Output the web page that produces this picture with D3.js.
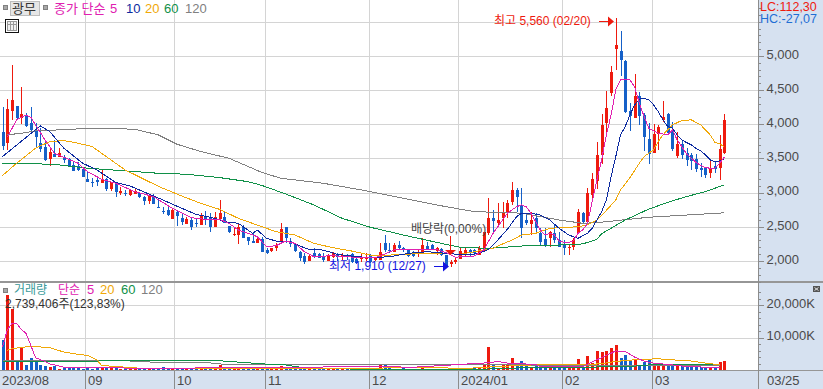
<!DOCTYPE html>
<html>
<head>
<meta charset="utf-8">
<script src="https://cdn.jsdelivr.net/npm/d3@7"></script>
<style>
  body { margin: 0; background: #fff; }
  svg { display: block; font-family: "Liberation Sans", "Noto Sans CJK KR", sans-serif; }
  .ma { fill: none; stroke-width: 1; shape-rendering: crispEdges; }
  .axis path, .axis line { stroke: #8c8c8c; shape-rendering: crispEdges; }
  .axis text { fill: #4a4a4a; font-size: 13px; }
</style>
</head>
<body>
<div id="chart"></div>
<script>
// candles, one entry per trading day
var open = [3890,3730,4195,4270,4090,4137,4015,3903,3723,3674,3498,3566,3527,3518,3493,3405,3391,3342,3200,3161,3181,3147,3200,3054,3137,3000,2990,2966,2980,3000,2942,2878,2956,2795,2737,2746,2615,2722,2634,2542,2600,2551,2527,2639,2639,2502,2610,2639,2512,2380,2380,2493,2346,2293,2268,2322,2160,2151,2185,2283,2492,2297,2244,2136,2078,2004,2122,2097,2063,2004,2063,2087,2063,2087,2097,2029,2024,2024,2087,2014,2014,2258,2165,2127,2234,2195,2170,2122,2102,2127,2219,2234,2146,2175,2088,1960,1990,2024,2122,2161,2161,2088,2185,2405,2624,2551,2624,2698,2868,3039,2820,2600,2541,2624,2405,2317,2332,2405,2307,2249,2185,2210,2405,2707,2576,2966,3171,3552,4015,4464,5103,5074,4918,4196,4098,4416,4137,3781,3586,3859,4055,4152,3893,3537,3713,3576,3552,3493,3357,3381,3293,3391,3357,3586];
var close = [3680,4225,4357,4090,4150,3976,3918,3820,3640,3480,3590,3518,3581,3480,3395,3322,3332,3234,3161,3137,3157,3200,3054,3152,3010,3030,2975,3040,3030,2932,2878,2956,2834,2780,2722,2673,2746,2663,2566,2610,2493,2537,2659,2600,2493,2639,2698,2561,2420,2395,2502,2342,2293,2268,2317,2136,2112,2185,2219,2468,2331,2244,2146,2038,1980,2078,2063,2048,2014,2087,2112,2063,2087,2063,1990,1965,2048,2063,1990,2048,2136,2160,2140,2234,2185,2175,2073,2078,2136,2234,2175,2170,2185,2088,1927,1980,2010,2146,2161,2112,2112,2185,2429,2624,2590,2600,2722,2844,3039,2942,2478,2561,2600,2478,2283,2234,2429,2307,2210,2185,2210,2307,2722,2576,2990,3195,3552,3991,4245,4757,5162,4943,4186,4128,4416,4128,3820,3566,3859,3957,4113,3869,3640,3713,3552,3479,3464,3347,3332,3259,3367,3347,3640,4064];
var high = [4250,4370,4870,4270,4540,4160,4250,4020,3940,3770,3650,3770,3650,3552,3503,3444,3444,3357,3308,3220,3235,3342,3210,3161,3147,3088,3040,3054,3074,3015,2951,2966,2981,2917,2795,2785,2756,2737,2697,2649,2624,2610,2698,2732,2707,2722,2893,2722,2512,2478,2551,2527,2356,2405,2371,2356,2195,2195,2258,2551,2502,2331,2258,2146,2112,2087,2185,2112,2112,2097,2126,2112,2112,2097,2112,2063,2097,2112,2097,2063,2258,2380,2270,2268,2293,2210,2175,2146,2175,2332,2283,2249,2210,2185,2088,2014,2039,2200,2200,2175,2175,2219,2429,2917,2746,2844,2868,2893,3151,3064,3064,2698,2722,2698,2478,2478,2444,2527,2429,2307,2234,2332,2756,2722,3064,3283,3747,4147,4489,4845,5560,5367,4943,4318,4738,4479,4162,4015,4006,3991,4342,4162,4040,3893,3771,3650,3576,3566,3430,3381,3479,3454,3845,4152];
var low = [3620,3620,4060,4060,4005,3957,3870,3665,3600,3464,3395,3518,3518,3430,3395,3318,3322,3234,3161,3088,3098,3147,3030,3030,2942,2966,2956,2956,2980,2917,2820,2830,2830,2780,2688,2663,2615,2512,2527,2537,2454,2493,2527,2527,2430,2493,2600,2551,2405,2366,2249,2332,2234,2259,2259,2126,2097,2136,2151,2283,2258,2200,2136,2000,1956,2004,2038,2038,1990,2000,2038,2000,2014,2014,1965,1950,1990,2000,1965,2000,2014,2136,2120,2127,2161,2136,2063,2054,2063,2112,2161,2161,2088,2073,1917,1910,1956,2024,2054,2063,2088,2088,2136,2380,2429,2527,2478,2624,2820,2722,2332,2527,2380,2405,2234,2210,2200,2268,2210,2088,2088,2161,2405,2551,2576,2917,3050,3420,3845,4406,4796,4699,4162,3908,4089,3991,3615,3420,3576,3625,4040,3845,3615,3503,3488,3396,3332,3308,3235,3220,3220,3293,3186,3567];

// volume in thousands of shares
var volume = [9200,23200,18900,3000,6900,1700,3800,2650,1600,1300,1000,1200,450,1000,570,520,480,450,500,430,470,520,560,600,480,430,380,400,360,420,400,380,350,400,780,380,360,350,400,380,360,420,380,360,400,420,1400,500,420,380,360,400,350,380,400,780,420,380,450,1100,520,450,400,380,360,400,380,360,350,380,400,360,350,380,400,360,380,400,420,500,1500,1900,600,450,420,480,420,380,400,780,450,420,400,380,420,400,450,420,400,450,480,520,1900,7100,1400,680,1900,1400,3800,1400,2650,1400,470,1400,1400,700,650,700,650,600,680,880,3500,700,4200,2100,5800,5500,5800,6700,7650,3600,4500,2750,3000,1700,2350,3000,1900,1400,1900,1100,1100,1700,1100,880,1100,1100,880,680,680,680,2350,2739];

// moving averages on price, read as index / value pairs
var ma5Idx = [1,3,5,6,7,9,11,13,16,18,21,24,28,32,36,40,44,46,48,50,54,56,58,60,62,64,66,70,76,79,80,83,86,89,92,94,96,98,100,102,104,105,107,109,110,111,112,113,114,115,116,117,118,119,120,121,122,123,124,125,126,127,128,129,130,131,133,134,135,136,137,139,141,142,143,144,145,146,147,148,149,150,151,152,153];
var ma5Val = [3810,4064,4137,4103,3991,3771,3576,3518,3430,3308,3196,3137,3015,2942,2771,2634,2600,2610,2551,2454,2356,2209,2224,2292,2258,2136,2063,2078,2048,2048,2073,2161,2161,2161,2170,2122,2053,2073,2073,2161,2405,2502,2698,2795,2820,2795,2698,2576,2454,2380,2405,2380,2293,2273,2273,2293,2405,2454,2551,2870,3186,3479,3845,4137,4503,4650,4650,4543,4308,4113,3942,3869,3845,3918,3771,3674,3566,3503,3444,3396,3366,3357,3357,3430,3518];
var ma10Idx = [0,8,10,13,17,20,24,27,31,34,38,41,45,47,50,53,54,56,58,61,63,65,68,71,75,79,80,83,86,90,94,98,101,103,105,107,109,110,112,114,116,118,120,122,124,125,126,127,128,129,130,131,132,133,134,135,136,137,138,139,140,141,142,143,144,145,146,147,148,149,150,151,152,153];
var ma10Val = [3527,3976,3893,3650,3430,3332,3147,3098,2981,2893,2771,2683,2624,2576,2551,2405,2453,2331,2292,2283,2219,2170,2160,2097,2063,2048,2053,2073,2112,2136,2112,2088,2110,2170,2307,2463,2649,2698,2698,2673,2600,2478,2380,2332,2405,2478,2600,2720,2893,3235,3527,3845,3967,4137,4284,4367,4381,4357,4284,4186,4064,3967,3942,3845,3771,3732,3698,3649,3610,3552,3479,3454,3464,3488];
var ma20Idx = [0,3,7,10,13,16,19,22,26,31,34,38,42,46,50,55,58,62,66,70,74,78,83,89,93,97,102,104,106,108,110,113,116,120,122,124,126,128,130,131,133,135,136,138,139,140,142,144,146,148,150,151,152,153];
var ma20Val = [3249,3430,3649,3747,3762,3723,3674,3527,3332,3161,3064,2951,2844,2756,2624,2502,2429,2380,2258,2195,2146,2085,2088,2112,2112,2097,2161,2185,2249,2307,2380,2405,2478,2493,2502,2527,2600,2740,2893,3039,3220,3430,3527,3625,3747,3845,3991,4055,4064,3991,3845,3737,3713,3674];
var ma60Idx = [0,8,12,18,26,33,39,46,52,55,60,66,72,78,85,92,97,103,110,118,123,126,127,132,137,142,145,149,153];
var ma60Val = [3430,3420,3405,3357,3318,3283,3269,3220,3161,3105,2981,2820,2624,2493,2380,2273,2200,2185,2219,2234,2250,2317,2400,2600,2760,2880,2942,3015,3113];
var ma120Idx = [1,4,7,12,19,28,33,37,42,48,55,59,68,76,85,92,100,110,118,123,126,137,147,153];
var ma120Val = [3845,3869,3903,3918,3942,3928,3845,3708,3601,3503,3295,3210,3137,3040,2917,2820,2722,2700,2600,2551,2561,2640,2680,2705];

// moving averages on volume
var vma5Idx = [0,1,2,3,4,5,6,7,8,9,10,13,17,23,24,26,31,45,50,80,84,85,103,105,107,110,113,114,118,123,126,128,130,132,134,136,138,141,145,149,152];
var vma5Val = [7100,12300,14400,14400,12500,11300,7600,3800,3200,2650,1900,880,680,680,880,570,470,680,680,1090,1090,680,2240,2650,2130,1920,1700,1090,1090,1090,3170,4520,5880,5770,4000,2750,2130,1700,1090,880,680];
var vma20Idx = [1,2,6,10,13,16,18,20,21,24,26,31,93,98,105,110,113,122,127,130,134,139,141,145,148,152];
var vma20Val = [6080,6600,7330,6900,5560,4840,4520,3170,1400,1090,880,360,680,470,1090,1400,1610,1610,1920,2650,3170,3480,3170,2960,2340,1610];
var vma60Idx = [0,5,26,43,46,52,56,59,62,64,75,102,110,113,118,125,127,134,138,152];
var vma60Val = [2550,2550,2860,2860,2860,2240,1820,1820,1090,680,260,260,680,880,680,680,1200,1200,1700,1700];
var vma120Idx = [0,26,33,43,48,110,115,152];
var vma120Val = [2860,2860,2340,2340,1610,1610,1300,1300];

// axis ticks
var priceTicks = [2000,2500,3000,3500,4000,4500,5000];
var priceGrid = [2000,2500,3000,3500,4000,4500,5000,5500];
var volumeTicks = [10000,20000];
var monthIdx = [17.4,36.45,55.55,77.7,96.5,118.6,137.7];
var monthLabels = ["09","10","11","12","2024/01","02","03"];

var red = "#ee1a0e", blue = "#1560c8", magenta = "#e020b0", navy = "#0c2aa0", orange = "#f0a808", green = "#109048", gray = "#808080";
var gridColor = "#d4d4d4", panelColor = "#d6e1f0";
var width = 823, height = 389, plotRight = 758.5;

var svg = d3.select("#chart").append("svg").attr("width", width).attr("height", height);

var xScale = d3.scaleLinear().domain([0, 153]).range([2.5, 724.3]);
var yPrice = d3.scaleLinear().domain([2000, 5500]).range([261, 21.7]);
var yVolume = d3.scaleLinear().domain([0, 20000]).range([370, 305.3]);

// right and bottom panels
svg.append("rect").attr("x", plotRight).attr("y", 0).attr("width", width - plotRight).attr("height", height).attr("fill", panelColor);
svg.append("rect").attr("x", 0).attr("y", 371).attr("width", width).attr("height", 18).attr("fill", panelColor);

// grid
var grid = svg.append("g").attr("shape-rendering", "crispEdges");
grid.selectAll(".priceGrid").data(priceGrid).enter().append("line")
    .attr("x1", 0).attr("x2", plotRight)
    .attr("y1", function(d) { return Math.round(yPrice(d)) + 0.5; })
    .attr("y2", function(d) { return Math.round(yPrice(d)) + 0.5; })
    .attr("stroke", gridColor);
grid.selectAll(".volumeGrid").data(volumeTicks).enter().append("line")
    .attr("x1", 0).attr("x2", plotRight)
    .attr("y1", function(d) { return Math.round(yVolume(d)) + 0.5; })
    .attr("y2", function(d) { return Math.round(yVolume(d)) + 0.5; })
    .attr("stroke", gridColor);
grid.selectAll(".monthGrid").data(monthIdx).enter().append("line")
    .attr("x1", function(d) { return Math.round(xScale(d)) + 0.5; })
    .attr("x2", function(d) { return Math.round(xScale(d)) + 0.5; })
    .attr("y1", 0).attr("y2", 371)
    .attr("stroke", gridColor);

// pane separators
grid.append("line").attr("x1", 0).attr("x2", width).attr("y1", 282).attr("y2", 282).attr("stroke", "#969696").attr("stroke-width", 1.5);
grid.append("line").attr("x1", 0).attr("x2", width).attr("y1", 370.5).attr("y2", 370.5).attr("stroke", "#969696");

// candles
var days = d3.range(open.length);
var candles = svg.append("g").attr("shape-rendering", "crispEdges");
candles.selectAll(".wick").data(days).enter().append("rect")
    .attr("x", function(i) { return Math.round(xScale(i)); })
    .attr("y", function(i) { return yPrice(high[i]); })
    .attr("width", 1)
    .attr("height", function(i) { return yPrice(low[i]) - yPrice(high[i]); })
    .attr("fill", function(i) { return close[i] >= open[i] ? red : blue; });
candles.selectAll(".body").data(days).enter().append("rect")
    .attr("x", function(i) { return Math.round(xScale(i)) - 1; })
    .attr("y", function(i) { return yPrice(Math.max(open[i], close[i])); })
    .attr("width", 3)
    .attr("height", function(i) { return Math.max(1, Math.abs(yPrice(open[i]) - yPrice(close[i]))); })
    .attr("fill", function(i) { return close[i] >= open[i] ? red : blue; });

// volume bars
svg.append("g").attr("shape-rendering", "crispEdges").selectAll("rect").data(days).enter().append("rect")
    .attr("x", function(i) { return Math.round(xScale(i)) - 1; })
    .attr("y", function(i) { return yVolume(volume[i]); })
    .attr("width", 3)
    .attr("height", function(i) { return yVolume(0) - yVolume(volume[i]); })
    .attr("fill", function(i) { return close[i] >= open[i] ? red : blue; });

function drawLine(idx, vals, scale, color, weight) {
  var line = d3.line()
      .x(function(d) { return xScale(d); })
      .y(function(d, i) { return scale(vals[i]); });
  svg.append("path").datum(idx).attr("class", "ma").attr("stroke", color).attr("stroke-width", weight || 1).attr("d", line);
}

drawLine(ma120Idx, ma120Val, yPrice, gray, 1.4);
drawLine(ma60Idx, ma60Val, yPrice, green, 1.4);
drawLine(ma20Idx, ma20Val, yPrice, orange, 1.4);
drawLine(ma10Idx, ma10Val, yPrice, navy);
drawLine(ma5Idx, ma5Val, yPrice, magenta);

drawLine(vma120Idx, vma120Val, yVolume, gray, 1.4);
drawLine(vma60Idx, vma60Val, yVolume, green, 1.4);
drawLine(vma20Idx, vma20Val, yVolume, orange, 1.4);
drawLine(vma5Idx, vma5Val, yVolume, magenta, 1.4);

// right axes
var priceAxis = d3.axisRight(yPrice).tickValues(priceTicks).tickSize(5).tickPadding(3).tickFormat(d3.format(","));
var priceAxisG = svg.append("g").attr("class", "axis").attr("transform", "translate(" + plotRight + ",0)").call(priceAxis);
priceAxisG.select(".domain").remove();
priceAxisG.selectAll("text").attr("dy", "0.18em");
var priceMinor = d3.axisRight(yPrice).tickValues(d3.range(1700, 5800, 100)).tickSize(2).tickFormat("");
svg.append("g").attr("class", "axis").attr("transform", "translate(" + plotRight + ",0)").call(priceMinor)
    .select(".domain").remove();

var volumeAxis = d3.axisRight(yVolume).tickValues(volumeTicks).tickSize(5).tickPadding(3).tickFormat(function(d) { return d3.format(",")(d) + "K"; });
var volumeAxisG = svg.append("g").attr("class", "axis").attr("transform", "translate(" + plotRight + ",0)").call(volumeAxis);
volumeAxisG.select(".domain").remove();
volumeAxisG.selectAll("text").attr("dy", "0.18em");
var volumeMinor = d3.axisRight(yVolume).tickValues(d3.range(0, 26000, 2000)).tickSize(2).tickFormat("");
svg.append("g").attr("class", "axis").attr("transform", "translate(" + plotRight + ",0)").call(volumeMinor)
    .select(".domain").remove();

svg.append("line").attr("x1", plotRight).attr("x2", plotRight).attr("y1", 0).attr("y2", height)
    .attr("stroke", "#8c8c8c").attr("shape-rendering", "crispEdges");

// month labels on the bottom band
var bottomTicks = svg.append("g").attr("shape-rendering", "crispEdges");
bottomTicks.selectAll("line").data(monthIdx).enter().append("line")
    .attr("x1", function(d) { return Math.round(xScale(d)) + 0.5; })
    .attr("x2", function(d) { return Math.round(xScale(d)) + 0.5; })
    .attr("y1", 371).attr("y2", height)
    .attr("stroke", "#8c8c8c");
function label(x, y, text, color, size, anchor) {
  return svg.append("text").attr("x", x).attr("y", y).attr("fill", color)
      .attr("font-size", size).attr("text-anchor", anchor || "start").text(text);
}
label(2, 385, "2023/08", "#4a4a4a", 13);
monthIdx.forEach(function(d, i) {
  label(Math.round(xScale(d)) + 3, 385, monthLabels[i], "#4a4a4a", 13);
});
label(767, 385, "03/25", "#4a4a4a", 13);

// top-left legend
function square(x, y) {
  svg.append("rect").attr("x", x).attr("y", y).attr("width", 4).attr("height", 4)
      .attr("fill", "#a8a8a8").attr("stroke", "#808080").attr("shape-rendering", "crispEdges");
}
square(3.5, 5.5);
square(43.5, 5.5);
svg.append("rect").attr("x", 10.5).attr("y", 1.5).attr("width", 29).attr("height", 14)
    .attr("fill", "#e6e6e6").attr("stroke", "#bdbdbd").attr("shape-rendering", "crispEdges");
label(12, 13, "광무", "#333", 13);
label(54, 13, "종가 단순", magenta, 13);
label(110, 13, "5", magenta, 13);
label(126, 13, "10", navy, 13);
label(145, 13, "20", orange, 13);
label(164, 13, "60", green, 13);
label(185, 13, "120", gray, 13);

// small table icon
var icon = svg.append("g").attr("shape-rendering", "crispEdges");
icon.append("rect").attr("x", 5.5).attr("y", 19.5).attr("width", 13).attr("height", 13).attr("fill", "#fff").attr("stroke", "#111");
icon.append("rect").attr("x", 7.5).attr("y", 21.5).attr("width", 9).attr("height", 9).attr("fill", "#eee").attr("stroke", "#999");
icon.append("line").attr("x1", 10.5).attr("x2", 10.5).attr("y1", 21).attr("y2", 31).attr("stroke", "#999");
icon.append("line").attr("x1", 13.5).attr("x2", 13.5).attr("y1", 21).attr("y2", 31).attr("stroke", "#999");
icon.append("line").attr("x1", 7).attr("x2", 17).attr("y1", 24.5).attr("y2", 24.5).attr("stroke", "#999");

// volume legend
square(3.5, 288);
label(14, 294, "거래량", "#3a9a9a", 12);
label(58, 294, "단순", magenta, 12);
label(87, 294, "5", magenta, 13);
label(100, 294, "20", orange, 13);
label(121, 294, "60", green, 13);
label(141, 294, "120", gray, 13);
label(5, 308, "2,739,406주(123,83%)", "#333", 12);

// corner readouts
label(760, 11, "LC:112,30", red, 12.5);
label(760, 23, "HC:-27,07", "#1f6ed4", 12.5);

// high / low annotations
label(494, 25, "최고 5,560 (02/20)", red, 12);
label(329, 270, "최저 1,910 (12/27)", "#1414e0", 12);
label(411, 233, "배당락(0,00%)", "#444", 12);

function arrow(x1, x2, y, color) {
  svg.append("line").attr("x1", x1).attr("x2", x2).attr("y1", y).attr("y2", y).attr("stroke", color);
  svg.append("path").attr("d", "M" + x2 + "," + (y - 5) + "L" + (x2 + 6) + "," + y + "L" + x2 + "," + (y + 5) + "Z").attr("fill", color);
}
arrow(599, 608, 21.5, red);
arrow(434, 443, 266.5, "#1414e0");

// dividend marker pointing at the candle below
svg.append("line").attr("x1", 450.5).attr("x2", 450.5).attr("y1", 236).attr("y2", 250).attr("stroke", red);
svg.append("path").attr("d", "M445,250L456,250L450.5,255Z").attr("fill", red);

// collapse button of the volume pane
svg.append("rect").attr("x", 813).attr("y", 286).attr("width", 7).attr("height", 6).attr("fill", "#555");
svg.append("path").attr("d", "M814.5,287.5L818.5,290.5M818.5,287.5L814.5,290.5").attr("stroke", "#fff").attr("stroke-width", 0.8);
</script>
</body>
</html>
